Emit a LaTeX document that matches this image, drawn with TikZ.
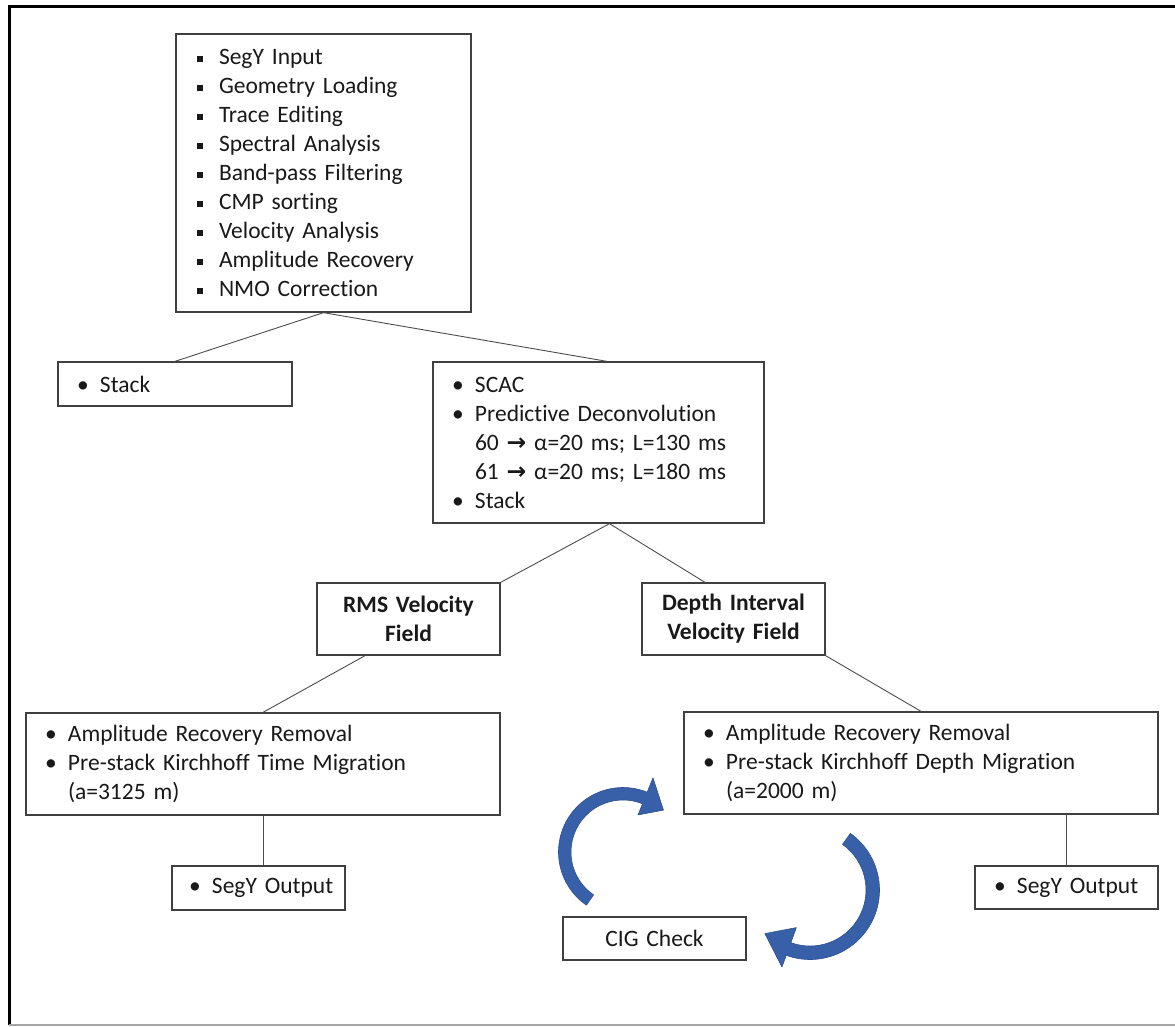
\documentclass[tikz,border=0pt]{standalone}
\usepackage{fontspec}
\setmainfont{Carlito}[Ligatures={NoCommon,NoContextual,NoRequired},Contextuals={NoAlternate},RawFeature={-dlig}]
\newfontfamily\arrowfont{DejaVu Sans}
\usetikzlibrary{calc}
\definecolor{boxc}{gray}{0.25}
\definecolor{linec}{gray}{0.3}
\definecolor{txtc}{gray}{0.1}
\definecolor{arrowblue}{RGB}{56,96,168}
\definecolor{arrowedge}{RGB}{45,80,145}
\newcommand{\rb}{\makebox[23pt][l]{\textbullet}}
\newcommand{\sqb}{\makebox[22pt][l]{\rule[3pt]{5.5pt}{5.5pt}}}
\newcommand{\ind}{\hspace*{23pt}}
\newcommand{\ra}{{\arrowfont\bfseries\char"2192}}
\newcommand{\cvarrow}[9]{%
  \filldraw[fill=arrowblue, draw=arrowedge, line width=0.6pt, line join=round]
    plot[domain=#5:#6, samples=60] ({#1+#4*cos(\x)},{#2+#4*sin(\x)})
    -- ({#1+#8*cos(#6)},{#2+#8*sin(#6)})
    -- ({#1+(#3+#4)/2*cos(#9)},{#2+(#3+#4)/2*sin(#9)})
    -- ({#1+#7*cos(#6)},{#2+#7*sin(#6)})
    -- plot[domain=#6:#5, samples=60] ({#1+#3*cos(\x)},{#2+#3*sin(\x)})
    -- cycle;}
\begin{document}
\begin{tikzpicture}[x=1pt,y=-1pt,
  every node/.style={text=txtc, font=\fontsize{23.5}{29}\selectfont},
  box/.style={draw=boxc, line width=1.3pt, rectangle, inner ysep=0pt, fill=white},
  lbox/.style={box, align=left, inner xsep=19pt},
  cbox/.style={box, align=center, inner xsep=0pt},
  conn/.style={draw=linec, line width=0.9pt}]
\useasboundingbox (0,0) rectangle (1175,1026);
% frame
\draw[black, line width=3pt] (9,1025) -- (9,6) -- (1175,6);
\draw[gray!70, line width=2pt] (9,1025) -- (1175,1025);

% boxes
\node[lbox, inner xsep=21pt, text width=253pt, minimum height=278pt] (top) at (323.5,173)
  {\sqb SegY Input\\ \sqb Geometry Loading\\ \sqb Trace Editing\\ \sqb Spectral Analysis\\
   \sqb Band-pass Filtering\\ \sqb CMP sorting\\ \sqb Velocity Analysis\\
   \sqb Amplitude Recovery\\ \sqb NMO Correction};
\node[lbox, text width=196pt, minimum height=44pt] (stack) at (175,384) {\rb Stack};
\node[lbox, text width=293pt, minimum height=161pt] (scac) at (598.5,442.5)
  {\rb SCAC\\ \rb Predictive Deconvolution\\
   \ind 60 \ra{} α=20 ms; L=130 ms\\ \ind 61 \ra{} α=20 ms; L=180 ms\\ \rb Stack};
\node[cbox, text width=183pt, minimum height=72pt, font=\fontsize{23.5}{29}\selectfont\bfseries] (rms) at (408.5,619)
  {RMS Velocity\\ Field};
\node[cbox, text width=183pt, minimum height=72pt, font=\fontsize{23.5}{29}\selectfont\bfseries] (depth) at (733.5,619)
  {Depth Interval\\ Velocity Field};
\node[lbox, text width=436pt, minimum height=102pt] (arL) at (263,764)
  {\rb Amplitude Recovery Removal\\ \rb Pre-stack Kirchhoff Time Migration\\ \ind (a=3125 m)};
\node[lbox, text width=436pt, minimum height=102pt] (arR) at (921,763)
  {\rb Amplitude Recovery Removal\\ \rb Pre-stack Kirchhoff Depth Migration\\ \ind (a=2000 m)};
\node[lbox, inner xsep=10pt, text width=153pt, minimum height=44pt] (segL) at (258.5,888) {\hspace*{7pt}\rb SegY Output};
\node[lbox, inner xsep=10pt, text width=163pt, minimum height=43pt] (segR) at (1066.5,887.5) {\hspace*{9pt}\rb SegY Output};
\node[cbox, text width=183pt, minimum height=43pt] (cig) at (654.5,938.5) {CIG Check};

% connectors
\draw[conn] (top.south) -- (stack.north);
\draw[conn] (top.south) -- ($(scac.north)+(8.5,0)$);
\draw[conn] ($(scac.south)+(11,0)$) -- (rms.north east);
\draw[conn] ($(scac.south)+(11,0)$) -- ($(depth.north)+(-28.5,0)$);
\draw[conn] ($(rms.south)+(-43.5,0)$) -- (arL.north);
\draw[conn] (depth.south east) -- (arR.north);
\draw[conn] (arL.south) -- (arL.south |- segL.north);
\draw[conn] (segR.north |- arR.south) -- (segR.north);

% curved arrows (CIG loop)
\cvarrow{623}{852}{52}{64.5}{124.5}{292}{40}{80}{314}
\cvarrow{810}{890}{56}{69.5}{305.5}{470}{40}{82}{496}
\end{tikzpicture}
\end{document}
